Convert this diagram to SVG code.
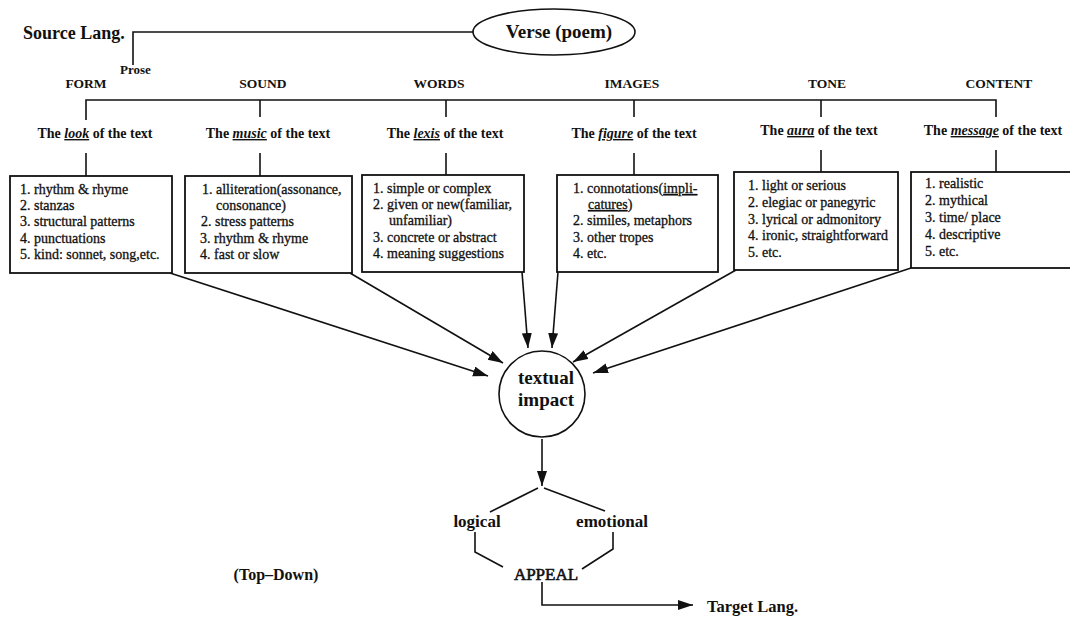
<svg xmlns="http://www.w3.org/2000/svg" width="1070" height="619" viewBox="0 0 1070 619">
<style>
text{font-family:"Liberation Serif","Times New Roman",serif;fill:#111}
.b{font-weight:bold}
.cat{font-size:13.5px;font-weight:bold;text-anchor:middle}
.sub{font-size:14px;font-weight:bold;text-anchor:middle}
.u{font-style:italic;text-decoration:underline}
.it{font-size:14px;stroke:#111;stroke-width:0.3}
.ln{fill:none;stroke:#111;stroke-width:1.6}
.box{fill:#fff;stroke:#111;stroke-width:1.8}
</style>
<defs>
<marker id="ah" markerUnits="userSpaceOnUse" markerWidth="16" markerHeight="12" refX="15" refY="5" orient="auto">
<path d="M0,0 L15,5 L0,10 z" fill="#111"/>
</marker>
</defs>
<rect width="1070" height="619" fill="#fff"/>

<g id="connectors">
<polyline class="ln" points="133,65 133,32 474,32"/>
<polyline class="ln" points="86,120 86,100 996,100 996,117"/>
<line class="ln" x1="260" y1="100" x2="260" y2="117"/>
<line class="ln" x1="446" y1="100" x2="446" y2="117"/>
<line class="ln" x1="634" y1="100" x2="634" y2="117"/>
<line class="ln" x1="821" y1="100" x2="821" y2="117"/>
<line class="ln" x1="86" y1="153" x2="86" y2="176"/>
<line class="ln" x1="260" y1="153" x2="260" y2="176"/>
<line class="ln" x1="446" y1="153" x2="446" y2="175"/>
<line class="ln" x1="634" y1="153" x2="634" y2="175"/>
<line class="ln" x1="821" y1="150" x2="821" y2="172"/>
<line class="ln" x1="996" y1="150" x2="996" y2="172"/>
<line class="ln" x1="170" y1="273" x2="488" y2="376" marker-end="url(#ah)"/>
<line class="ln" x1="350" y1="273" x2="503" y2="363" marker-end="url(#ah)"/>
<line class="ln" x1="522" y1="272" x2="528" y2="348" marker-end="url(#ah)"/>
<line class="ln" x1="558" y1="272" x2="552" y2="348" marker-end="url(#ah)"/>
<line class="ln" x1="736" y1="270" x2="573" y2="362" marker-end="url(#ah)"/>
<line class="ln" x1="911" y1="268" x2="593" y2="373" marker-end="url(#ah)"/>
<line class="ln" x1="542" y1="439" x2="542" y2="486" marker-end="url(#ah)"/>
<line class="ln" x1="538" y1="488" x2="490" y2="512"/>
<line class="ln" x1="544" y1="488" x2="605" y2="511"/>
<polyline class="ln" points="475,532 475,552 503,567"/>
<polyline class="ln" points="613,532 613,549 582,569"/>
<polyline class="ln" points="542,582 542,605 693,605" marker-end="url(#ah)"/>
</g>

<g id="source"><text class="b" x="23" y="39" font-size="18">Source Lang.</text></g>
<g id="prose"><text class="b" x="120" y="74" font-size="13">Prose</text></g>
<g id="verse">
<ellipse cx="554" cy="32" rx="81" ry="23" fill="#fff" stroke="#111" stroke-width="1.6"/>
<text class="b" x="559" y="38" font-size="19" text-anchor="middle">Verse (poem)</text>
</g>

<g id="form">
<text class="cat" x="86" y="88">FORM</text>
<text class="sub" x="95" y="138">The <tspan class="u">look</tspan> of the text</text>
<rect class="box" x="10" y="176" width="162" height="97"/>
<text class="it" x="20" y="194">1. rhythm &amp; rhyme</text>
<text class="it" x="20" y="210">2. stanzas</text>
<text class="it" x="20" y="226">3. structural patterns</text>
<text class="it" x="20" y="243">4. punctuations</text>
<text class="it" x="20" y="259">5. kind: sonnet, song,etc.</text>
</g>

<g id="sound">
<text class="cat" x="263" y="88">SOUND</text>
<text class="sub" x="268" y="138">The <tspan class="u">music</tspan> of the text</text>
<rect class="box" x="185" y="176" width="167" height="97"/>
<text class="it" x="202" y="194">1. alliteration(assonance,</text>
<text class="it" x="216" y="210">consonance)</text>
<text class="it" x="201" y="226">2. stress patterns</text>
<text class="it" x="200" y="243">3. rhythm &amp; rhyme</text>
<text class="it" x="200" y="259">4. fast or slow</text>
</g>

<g id="words">
<text class="cat" x="439" y="88">WORDS</text>
<text class="sub" x="445" y="138">The <tspan class="u">lexis</tspan> of the text</text>
<rect class="box" x="362" y="175" width="162" height="97"/>
<text class="it" x="373" y="193">1. simple or complex</text>
<text class="it" x="373" y="209">2. given or new(familiar,</text>
<text class="it" x="389" y="225">unfamiliar)</text>
<text class="it" x="373" y="242">3. concrete or abstract</text>
<text class="it" x="373" y="258">4. meaning suggestions</text>
</g>

<g id="images">
<text class="cat" x="632" y="88">IMAGES</text>
<text class="sub" x="634" y="138">The <tspan class="u">figure</tspan> of the text</text>
<rect class="box" x="557" y="175" width="161" height="97"/>
<text class="it" x="573" y="193">1. connotations(<tspan text-decoration="underline">impli-</tspan></text>
<text class="it" x="588" y="209"><tspan text-decoration="underline">catures</tspan>)</text>
<text class="it" x="573" y="225">2. similes, metaphors</text>
<text class="it" x="573" y="242">3. other tropes</text>
<text class="it" x="573" y="258">4. etc.</text>
</g>

<g id="tone">
<text class="cat" x="827" y="88">TONE</text>
<text class="sub" x="819" y="135">The <tspan class="u">aura</tspan> of the text</text>
<rect class="box" x="734" y="172" width="164" height="98"/>
<text class="it" x="748" y="190">1. light or serious</text>
<text class="it" x="748" y="207">2. elegiac or panegyric</text>
<text class="it" x="748" y="224">3. lyrical or admonitory</text>
<text class="it" x="748" y="240">4. ironic, straightforward</text>
<text class="it" x="748" y="257">5. etc.</text>
</g>

<g id="content">
<text class="cat" x="999" y="88">CONTENT</text>
<text class="sub" x="993" y="135">The <tspan class="u">message</tspan> of the text</text>
<rect class="box" x="911" y="172" width="170" height="96"/>
<text class="it" x="925" y="188">1. realistic</text>
<text class="it" x="925" y="205">2. mythical</text>
<text class="it" x="925" y="222">3. time/ place</text>
<text class="it" x="925" y="239">4. descriptive</text>
<text class="it" x="925" y="256">5. etc.</text>
</g>

<g id="impact">
<circle cx="542" cy="394" r="43" fill="#fff" stroke="#111" stroke-width="1.6"/>
<text class="b" x="546" y="384" font-size="19" text-anchor="middle">textual</text>
<text class="b" x="546" y="406" font-size="19" text-anchor="middle">impact</text>
</g>

<g id="logical"><text class="b" x="477" y="527" font-size="17" text-anchor="middle">logical</text></g>
<g id="emotional"><text class="b" x="612" y="527" font-size="17" text-anchor="middle">emotional</text></g>
<g id="appeal"><text x="546" y="580" font-size="17" text-anchor="middle" stroke="#111" stroke-width="0.6">APPEAL</text></g>
<g id="topdown"><text class="b" x="276" y="580" font-size="16" text-anchor="middle">(Top–Down)</text></g>
<g id="target"><text class="b" x="707" y="612" font-size="16.5">Target Lang.</text></g>
</svg>
